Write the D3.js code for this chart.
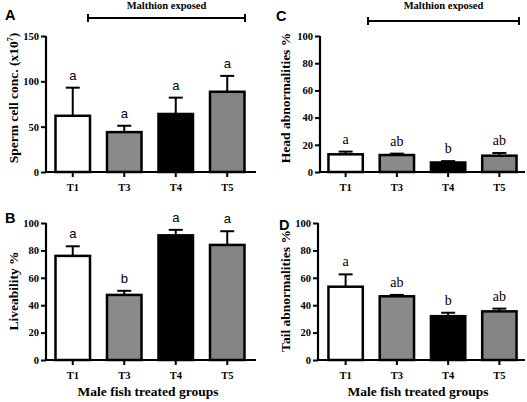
<!DOCTYPE html>
<html><head><meta charset="utf-8">
<script src="https://cdn.jsdelivr.net/npm/d3@7"></script>
<style>
html,body{margin:0;padding:0;background:#fff;}
svg{display:block;}
</style></head>
<body>
<svg id="chart" width="527" height="402"></svg>
<script>
const groups = ["T1", "T3", "T4", "T5"];
const barFills = ["#ffffff", "#8a8a8a", "#000000", "#848484"];

const spermMean = [62, 44, 64, 88.5];
const spermErr = [31, 7, 18, 17.5];
const spermLetters = ["a", "a", "a", "a"];
const spermTicks = [0, 50, 100, 150];

const liveMean = [76, 47.5, 91, 84];
const liveErr = [7, 3, 4, 10];
const liveLetters = ["a", "b", "a", "a"];

const headMean = [13, 12.5, 7, 12];
const headErr = [2, 1, 1, 2];
const headLetters = ["a", "ab", "b", "ab"];

const tailMean = [53.5, 46.5, 32, 35.5];
const tailErr = [9, 1, 2.5, 2];
const tailLetters = ["a", "ab", "b", "ab"];

const pctTicks = [0, 20, 40, 60, 80, 100];

const svg = d3.select("#chart");
const serif = "'Liberation Serif','Times New Roman',serif";
const sans = "'Liberation Sans',Arial,sans-serif";

function panel(cfg) {
  const g = svg.append("g");
  const x = d3.scaleBand().domain(groups).range([cfg.bandL, cfg.bandR]).paddingInner(0.33).paddingOuter(0.165);
  const y = d3.scaleLinear().domain([0, cfg.max]).range([cfg.y0, cfg.yTop]);

  groups.forEach((grp, i) => {
    const cx = x(grp) + x.bandwidth() / 2;
    const top = y(cfg.mean[i] + cfg.err[i]);
    g.append("line").attr("x1", cx).attr("x2", cx).attr("y1", y(cfg.mean[i])).attr("y2", top)
      .attr("stroke", "#000").attr("stroke-width", 2);
    g.append("line").attr("x1", cx - 7).attr("x2", cx + 7).attr("y1", top).attr("y2", top)
      .attr("stroke", "#000").attr("stroke-width", 2);
    g.append("rect").attr("x", x(grp)).attr("width", x.bandwidth())
      .attr("y", y(cfg.mean[i])).attr("height", y(0) - y(cfg.mean[i]))
      .attr("fill", barFills[i]).attr("stroke", "#000").attr("stroke-width", 2.5);
    g.append("text").attr("x", cx).attr("y", top - 8).attr("text-anchor", "middle")
      .attr("fill", "#000")
      .attr("font-family", cfg.letterFont).attr("font-size", cfg.letterFont === sans ? 13 : 14)
      .text(cfg.letters[i]);
  });

  const ya = g.append("g").attr("transform", `translate(${cfg.axisX},0)`)
    .call(d3.axisLeft(y).tickValues(cfg.ticks).tickSize(5).tickSizeOuter(0).tickPadding(2));
  ya.select(".domain").attr("stroke-width", 2.2).attr("d", `M0,${cfg.yTop}V${cfg.y0 + 1}`);
  ya.selectAll(".tick line").attr("stroke-width", 2);
  ya.selectAll("text").attr("font-family", serif).attr("font-weight", "bold").attr("font-size", 10.5);

  const xa = g.append("g").attr("transform", `translate(0,${cfg.y0})`)
    .call(d3.axisBottom(x).tickSize(5).tickSizeOuter(0).tickPadding(7));
  xa.select(".domain").attr("stroke-width", 2.2).attr("d", `M${cfg.axisX - 1},0H${cfg.axisR}`);
  xa.selectAll(".tick line").attr("stroke-width", 2);
  xa.selectAll("text").attr("font-family", serif).attr("font-weight", "bold").attr("font-size", 10.5);

  g.append("text").attr("transform", `translate(${cfg.titleX},${cfg.titleY}) rotate(-90)`)
    .attr("text-anchor", "middle").attr("font-family", serif).attr("font-weight", "bold")
    .attr("font-size", 13.5).html(cfg.yTitle);

  g.append("text").attr("x", cfg.labX).attr("y", cfg.labY).attr("font-family", sans)
    .attr("font-weight", "bold").attr("font-size", 14.5).text(cfg.label);

  if (cfg.bracket) {
    const b = cfg.bracket;
    g.append("line").attr("x1", b.x1).attr("x2", b.x2).attr("y1", b.y).attr("y2", b.y)
      .attr("stroke", "#000").attr("stroke-width", 2);
    [b.x1, b.x2].forEach(xx => g.append("line").attr("x1", xx).attr("x2", xx)
      .attr("y1", b.y - 4).attr("y2", b.y + 4).attr("stroke", "#000").attr("stroke-width", 2));
    g.append("text").attr("x", (b.x1 + b.x2) / 2).attr("y", 9).attr("text-anchor", "middle")
      .attr("font-family", serif).attr("font-weight", "bold").attr("font-size", 10.5)
      .text("Malthion exposed");
  }
  if (cfg.xTitle) {
    g.append("text").attr("x", cfg.xTitleX).attr("y", 396).attr("text-anchor", "middle")
      .attr("font-family", serif).attr("font-weight", "bold").attr("font-size", 13.5)
      .text("Male fish treated groups");
  }
}

panel({ label: "A", labX: 5, labY: 20, axisX: 46, axisR: 256, bandL: 47, bandR: 253,
  yTop: 36, y0: 172, max: 150, ticks: spermTicks, mean: spermMean, err: spermErr,
  letters: spermLetters, letterFont: sans, titleX: 18, titleY: 98,
  yTitle: "Sperm cell conc. (x10<tspan font-size='8' dy='-5'>7</tspan><tspan dy='5'>)</tspan>",
  bracket: { x1: 88, x2: 245, y: 18 } });

panel({ label: "C", labX: 276, labY: 21, axisX: 320, axisR: 525, bandL: 320, bandR: 525,
  yTop: 36, y0: 172, max: 100, ticks: pctTicks, mean: headMean, err: headErr,
  letters: headLetters, letterFont: serif, titleX: 290, titleY: 98,
  yTitle: "Head abnormalities %", bracket: { x1: 368, x2: 519, y: 21 } });

panel({ label: "B", labX: 5, labY: 223, axisX: 46, axisR: 256, bandL: 47, bandR: 253,
  yTop: 223, y0: 360, max: 100, ticks: pctTicks, mean: liveMean, err: liveErr,
  letters: liveLetters, letterFont: sans, titleX: 18, titleY: 291,
  yTitle: "Liveability %", xTitle: true, xTitleX: 148 });

panel({ label: "D", labX: 279, labY: 230, axisX: 318, axisR: 525, bandL: 320, bandR: 525,
  yTop: 223, y0: 360, max: 100, ticks: pctTicks, mean: tailMean, err: tailErr,
  letters: tailLetters, letterFont: serif, titleX: 290, titleY: 291,
  yTitle: "Tail abnormalities %", xTitle: true, xTitleX: 418 });
</script>
</body></html>
